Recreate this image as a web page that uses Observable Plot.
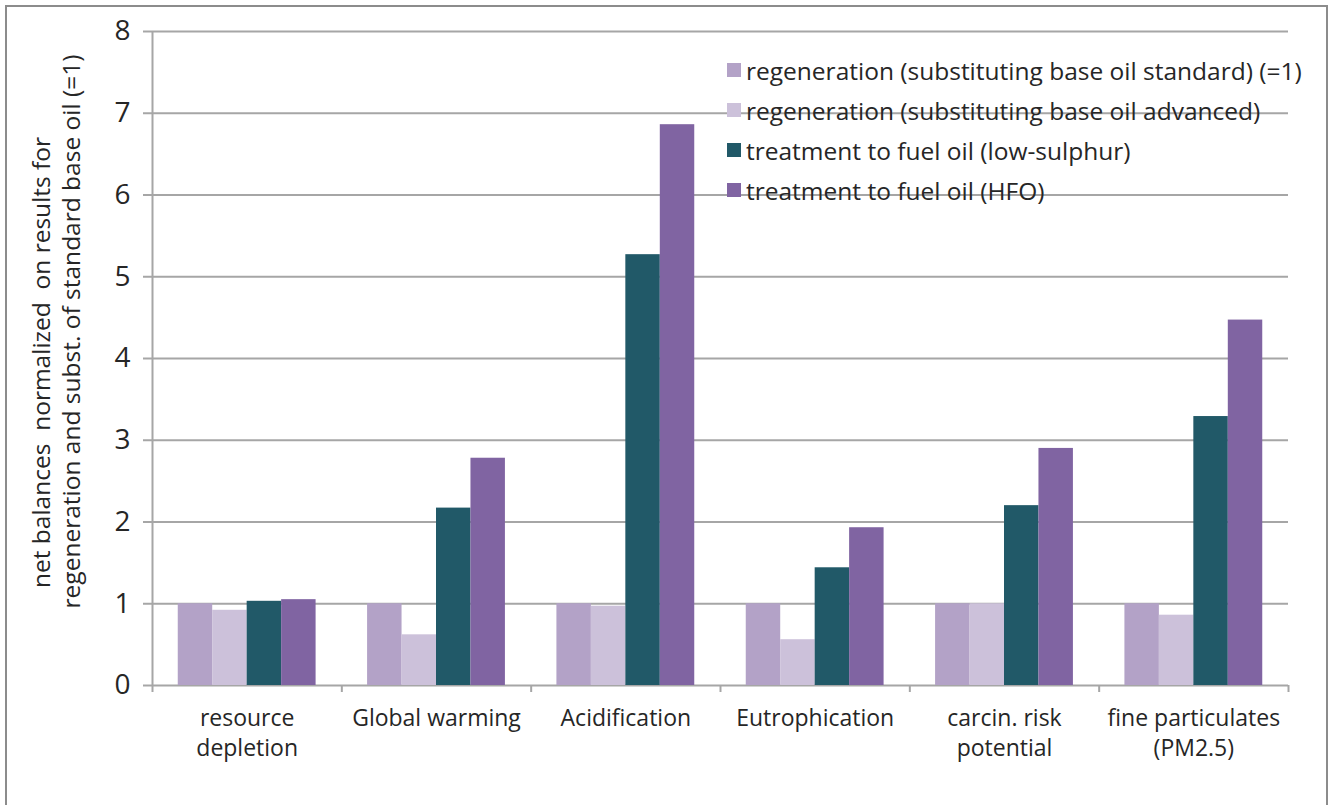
<!DOCTYPE html>
<html>
<head>
<meta charset="utf-8">
<script src="https://cdn.jsdelivr.net/npm/d3@7"></script>
<script src="https://cdn.jsdelivr.net/npm/@observablehq/plot@0.6"></script>
<style>
  html, body { margin: 0; padding: 0; background: #fff; }
  #wrap { position: relative; width: 1334px; height: 805px; overflow: hidden; font-family: "Open Sans", sans-serif; }
  #border { position: absolute; left: 5px; top: 5px; width: 1323px; height: 820px; border: 2px solid #8c8c8c; box-sizing: border-box; pointer-events: none; }
  #legend { position: absolute; left: 727px; top: 50px; font-size: 24.5px; color: #262626; }
  #legend .row { display: flex; align-items: center; height: 40px; white-space: nowrap; }
  #legend .sw { width: 14px; height: 14px; margin-right: 5px; }
</style>
</head>
<body>
<div id="wrap">
  <div id="chart"></div>
  <div id="legend"></div>
  <div id="border"></div>
</div>
<script>
const categories = ["resource\ndepletion", "Global warming", "Acidification", "Eutrophication", "carcin. risk\npotential", "fine particulates\n(PM2.5)"];
const seriesNames = [
  "regeneration (substituting base oil standard) (=1)",
  "regeneration (substituting base oil advanced)",
  "treatment to fuel oil (low-sulphur)",
  "treatment to fuel oil (HFO)"
];
const regenStandard = [1.00, 1.00, 1.00, 1.00, 1.00, 1.00];
const regenAdvanced = [0.92, 0.62, 0.97, 0.56, 1.00, 0.86];
const fuelLowSulphur = [1.03, 2.17, 5.27, 1.44, 2.20, 3.29];
const fuelHFO = [1.05, 2.78, 6.86, 1.93, 2.90, 4.47];
const yTicks = [0, 1, 2, 3, 4, 5, 6, 7, 8];
const yTitleLine1 = "net balances  normalized  on results for";
const yTitleLine2 = "regeneration and subst. of standard base oil (=1)";
const colors = ["#b3a2c7", "#ccc1da", "#215968", "#8064a2"];

const seriesValues = [regenStandard, regenAdvanced, fuelLowSulphur, fuelHFO];
const rows = [];
categories.forEach((c, ci) => {
  seriesNames.forEach((s, si) => {
    rows.push({category: c, ci, series: s, si, value: seriesValues[si][ci]});
  });
});

// layout: each category occupies one unit on x; bars take BAR_W each, group centered
const BAR_W = 0.182;
const PAD = (1 - 4 * BAR_W) / 2;

const gridColor = "#a6a6a6";
const textColor = "#262626";

const chart = Plot.plot({
  width: 1334,
  height: 805,
  marginLeft: 152,
  marginRight: 46,
  marginTop: 31,
  marginBottom: 120,
  style: {fontFamily: "Open Sans, sans-serif", background: "transparent", color: textColor},
  x: {domain: [0, categories.length], axis: null},
  y: {domain: [0, 8], axis: null},
  color: {domain: seriesNames, range: colors},
  marks: [
    Plot.ruleY(yTicks, {stroke: gridColor, strokeWidth: 2}),
    Plot.ruleX([0], {y1: 0, y2: 8, stroke: gridColor, strokeWidth: 2}),
    Plot.axisY({ticks: yTicks, label: null, tickSize: 9, tickPadding: 13, fontSize: 28, stroke: gridColor, strokeWidth: 2, fill: textColor, tickFormat: d => d}),
    Plot.axisX({ticks: d3.range(0, categories.length + 1), label: null, tickSize: 7, tickFormat: () => "", stroke: gridColor, strokeWidth: 2}),
    Plot.axisX({ticks: d3.range(categories.length).map(i => i + 0.5), label: null, tickSize: 0, tickPadding: 19, fontSize: 23, fill: textColor, lineHeight: 1.3, tickFormat: d => categories[Math.floor(d)]}),
    Plot.rectY(rows, {
      x1: d => d.ci + PAD + d.si * BAR_W,
      x2: d => d.ci + PAD + (d.si + 1) * BAR_W,
      y: "value",
      fill: "series"
    }),
    Plot.text([yTitleLine1], {
      frameAnchor: "left", textAnchor: "middle", rotate: -90, dx: -110, dy: 4, fontSize: 24.5, fill: textColor, text: d => d
    }),
    Plot.text([yTitleLine2], {
      frameAnchor: "left", textAnchor: "middle", rotate: -90, dx: -80, dy: -27, fontSize: 24.5, fill: textColor, text: d => d
    })
  ]
});
document.getElementById("chart").appendChild(chart);

const legend = document.getElementById("legend");
seriesNames.forEach((s, i) => {
  const row = document.createElement("div");
  row.className = "row";
  const sw = document.createElement("div");
  sw.className = "sw";
  sw.style.background = colors[i];
  const t = document.createElement("span");
  t.textContent = s;
  row.appendChild(sw);
  row.appendChild(t);
  legend.appendChild(row);
});
</script>
</body>
</html>
